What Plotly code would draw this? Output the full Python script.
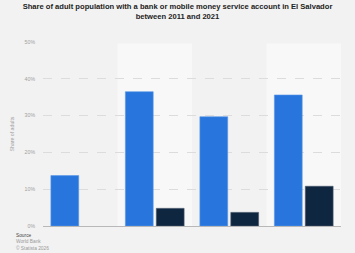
import plotly.graph_objects as go

years = ["2011", "2014", "2017", "2021"]
bank_account = [13.7, 36.5, 29.7, 35.6]
mobile_money = [None, 4.8, 3.7, 10.8]
tick_vals = [0, 10, 20, 30, 40, 50]
tick_text = ["0%", "10%", "20%", "30%", "40%", "50%"]
source_lines = ["Source", "World Bank", "© Statista 2026"]

fig = go.Figure()
fig.add_trace(go.Bar(x=years, y=bank_account, name="Bank account",
                     marker=dict(color="#2876dd", line=dict(color="#5a97e6", width=0.6))))
fig.add_trace(go.Bar(x=years, y=mobile_money, name="Mobile money",
                     marker=dict(color="#0f2640", line=dict(color="#4a5a6c", width=0.6))))

shapes = []
for i in range(len(years)):
    if i % 2 == 1:
        shapes.append(dict(type="rect", xref="x", yref="y", x0=i - 0.5, x1=i + 0.5,
                           y0=0, y1=49.6, fillcolor="#f8f8f8", line=dict(width=0), layer="below"))

fig.update_layout(
    width=355, height=253,
    margin=dict(l=41, r=14, t=42, b=27),
    paper_bgcolor="#f2f2f2", plot_bgcolor="#f2f2f2",
    showlegend=False,
    bargap=0.17, bargroupgap=0.1,
    shapes=shapes,
    title=dict(text="<b>Share of adult population with a bank or mobile money service account in El Salvador<br>between 2011 and 2021</b>",
               x=0.5, xanchor="center", y=0.965, yanchor="top",
               font=dict(family="Arial, Liberation Sans", size=7.6, color="#222")),
    font=dict(family="Arial, Liberation Sans"),
    xaxis=dict(showticklabels=False, showgrid=False, zeroline=False, showline=False),
    yaxis=dict(range=[0, 50], tickvals=tick_vals, ticktext=tick_text,
               tickfont=dict(size=5.2, color="#a0a0a0"),
               showgrid=True, gridcolor="#dcdcdc", griddash="dash", gridwidth=0.8,
               zeroline=True, zerolinecolor="#b8b8b8", zerolinewidth=1.2,
               ticks="", ticklen=0, ticklabelstandoff=7,
               title=dict(text="Share of adults", font=dict(size=5.2, color="#a0a0a0"), standoff=9)),
)
colors = ["#444", "#999", "#999"]
for k, txt in enumerate(source_lines):
    fig.add_annotation(text=txt, xref="paper", yref="paper", x=-0.097, xanchor="left",
                       y=-0.052 - k * 0.033, yanchor="middle", showarrow=False,
                       font=dict(size=4.8, color=colors[k]))

fig.write_html("out.html")
